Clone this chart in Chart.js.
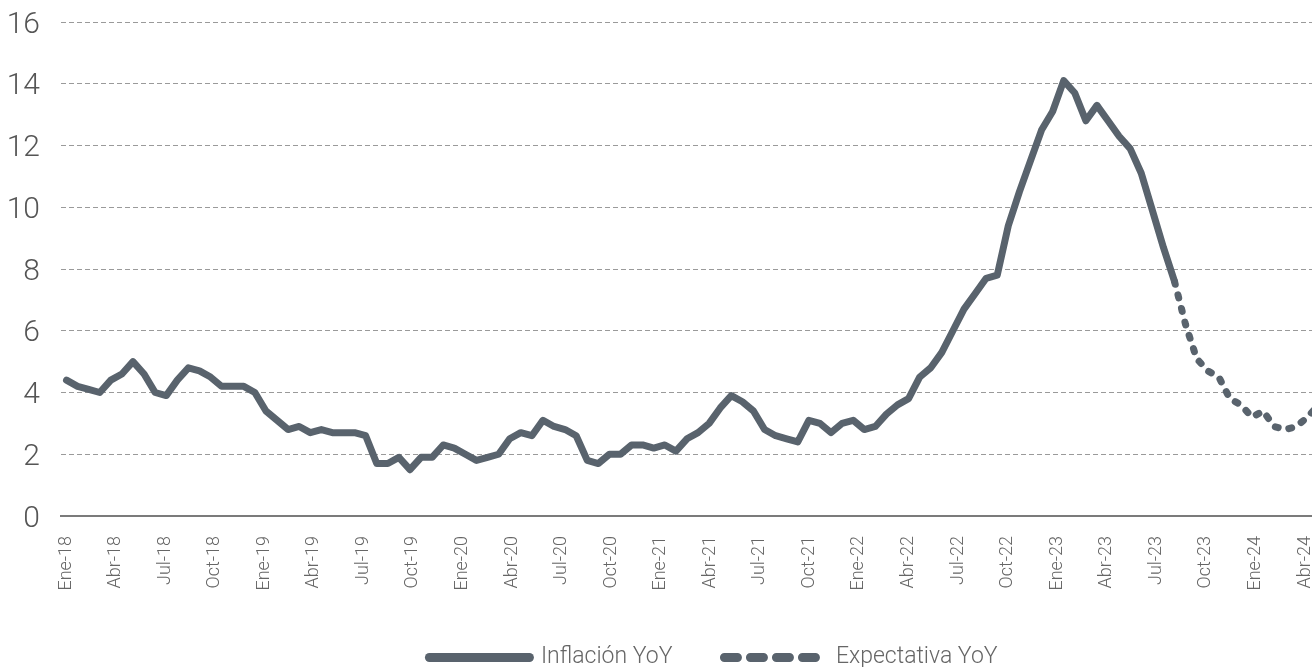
<!DOCTYPE html>
<html>
<head>
<meta charset="utf-8">
<script src="https://cdn.jsdelivr.net/npm/chart.js@4"></script>
<style>
  html, body { margin: 0; padding: 0; overflow: hidden; background: #fff; }
</style>
</head>
<body>
<canvas id="chart" width="1427" height="679"></canvas>
<script>
// inflación interanual mensual (serie sólida)
const inflacion = [
  4.4, 4.2, 4.1, 4.0, 4.4, 4.6, 5.0, 4.6, 4.0, 3.9, 4.4,
  4.8, 4.7, 4.5, 4.2, 4.2, 4.2, 4.0, 3.4, 3.1, 2.8, 2.9, 2.7,
  2.8, 2.7, 2.7, 2.7, 2.6, 1.7, 1.7, 1.9, 1.5, 1.9, 1.9, 2.3,
  2.2, 2.0, 1.8, 1.9, 2.0, 2.5, 2.7, 2.6, 3.1, 2.9, 2.8, 2.6,
  1.8, 1.7, 2.0, 2.0, 2.3, 2.3, 2.2, 2.3, 2.1, 2.5, 2.7, 3.0,
  3.5, 3.9, 3.7, 3.4, 2.8, 2.6, 2.5, 2.4, 3.1, 3.0, 2.7, 3.0,
  3.1, 2.8, 2.9, 3.3, 3.6, 3.8, 4.5, 4.8, 5.3, 6.0, 6.7, 7.2,
  7.7, 7.8, 9.4, 10.5, 11.5, 12.5, 13.1, 14.1, 13.7, 12.8, 13.3, 12.8,
  12.3, 11.9, 11.1, 9.9, 8.7, 7.6
];
// expectativa, arranca en el último dato observado
const expectativa = [7.6, 6.2, 5.1, 4.7, 4.5, 3.8, 3.6, 3.2, 3.4, 2.9, 2.8, 2.9, 3.2, 3.6];
const expStart = inflacion.length - 1;

const tickLabels = [
  "Ene-18", "Abr-18", "Jul-18", "Oct-18",
  "Ene-19", "Abr-19", "Jul-19", "Oct-19",
  "Ene-20", "Abr-20", "Jul-20", "Oct-20",
  "Ene-21", "Abr-21", "Jul-21", "Oct-21",
  "Ene-22", "Abr-22", "Jul-22", "Oct-22",
  "Ene-23", "Abr-23", "Jul-23", "Oct-23",
  "Ene-24", "Abr-24"
];
const yMin = 0, yMax = 16, yStep = 2;

// geometry of the plot (pixels)
const W = 1427;
const areaLeft = 61;
const firstPoint = 66.5, pointGap = 11.08;   // serie de datos
const firstTick = 66, monthGap = 16.52;      // etiquetas de eje (mensual)
const span = W - areaLeft;

const GRAY = "#59636d";
const FONT = "Roboto";

const ctx = document.getElementById("chart").getContext("2d");

new Chart(ctx, {
  type: "line",
  data: {
    datasets: [
      {
        label: "Inflación YoY",
        data: inflacion.map((v, i) => ({ x: i, y: v })),
        borderColor: GRAY,
        backgroundColor: GRAY,
        borderWidth: 7,
        borderJoinStyle: "round",
        borderCapStyle: "round",
        pointRadius: 0,
        tension: 0
      },
      {
        label: "Expectativa YoY",
        data: expectativa.map((v, i) => ({ x: expStart + i, y: v })),
        borderColor: GRAY,
        backgroundColor: GRAY,
        borderWidth: 7,
        borderDash: [3, 11],
        borderJoinStyle: "round",
        borderCapStyle: "round",
        pointRadius: 0,
        tension: 0
      }
    ]
  },
  options: {
    responsive: false,
    animation: false,
    devicePixelRatio: 1,
    layout: { padding: { top: 22, right: 0, bottom: 0, left: 0 } },
    plugins: {
      tooltip: { enabled: false },
      legend: {
        position: "bottom",
        labels: {
          usePointStyle: true,
          pointStyle: "line",
          pointStyleWidth: 100,
          padding: 52,
          color: "#666",
          font: { family: FONT, size: 23, weight: "300" },
          generateLabels: chart => {
            const items = Chart.defaults.plugins.legend.labels.generateLabels(chart);
            items.forEach(it => {
              it.lineWidth = 9;
              it.lineCap = "round";
            });
            items[1].lineDash = [13, 13];
            return items;
          }
        }
      }
    },
    scales: {
      x: {
        type: "linear",
        display: false,
        min: (areaLeft - firstPoint) / pointGap,
        max: (areaLeft - firstPoint) / pointGap + span / pointGap
      },
      meses: {
        type: "linear",
        position: "bottom",
        min: (areaLeft - firstTick) / monthGap,
        max: (areaLeft - firstTick) / monthGap + span / monthGap,
        afterBuildTicks: s => { s.ticks = tickLabels.map((t, i) => ({ value: i * 3 })); },
        afterFit: s => { s.paddingLeft = 0; s.paddingRight = 0; s.height = 78; },
        grid: { display: false },
        border: { display: true, color: "#7b7b7b", width: 2 },
        ticks: {
          autoSkip: false,
          minRotation: 90,
          maxRotation: 90,
          padding: 12,
          color: "#666",
          font: { family: FONT, size: 18, weight: "300" },
          callback: v => tickLabels[Math.round(v / 3)] || ""
        }
      },
      y: {
        min: yMin,
        max: yMax,
        afterFit: s => { s.width = areaLeft; s.paddingTop = 0; s.paddingBottom = 0; },
        grid: {
          drawTicks: false,
          lineWidth: 1,
          color: c => (c.tick && c.tick.value === 0) ? "rgba(0,0,0,0)" : "#9a9a9a"
        },
        border: { display: false, dash: [5, 3] },
        ticks: {
          stepSize: yStep,
          padding: 21,
          labelOffset: 3,
          color: "#555",
          font: { family: FONT, size: 30, weight: "300" }
        }
      }
    }
  }
});
</script>
</body>
</html>
